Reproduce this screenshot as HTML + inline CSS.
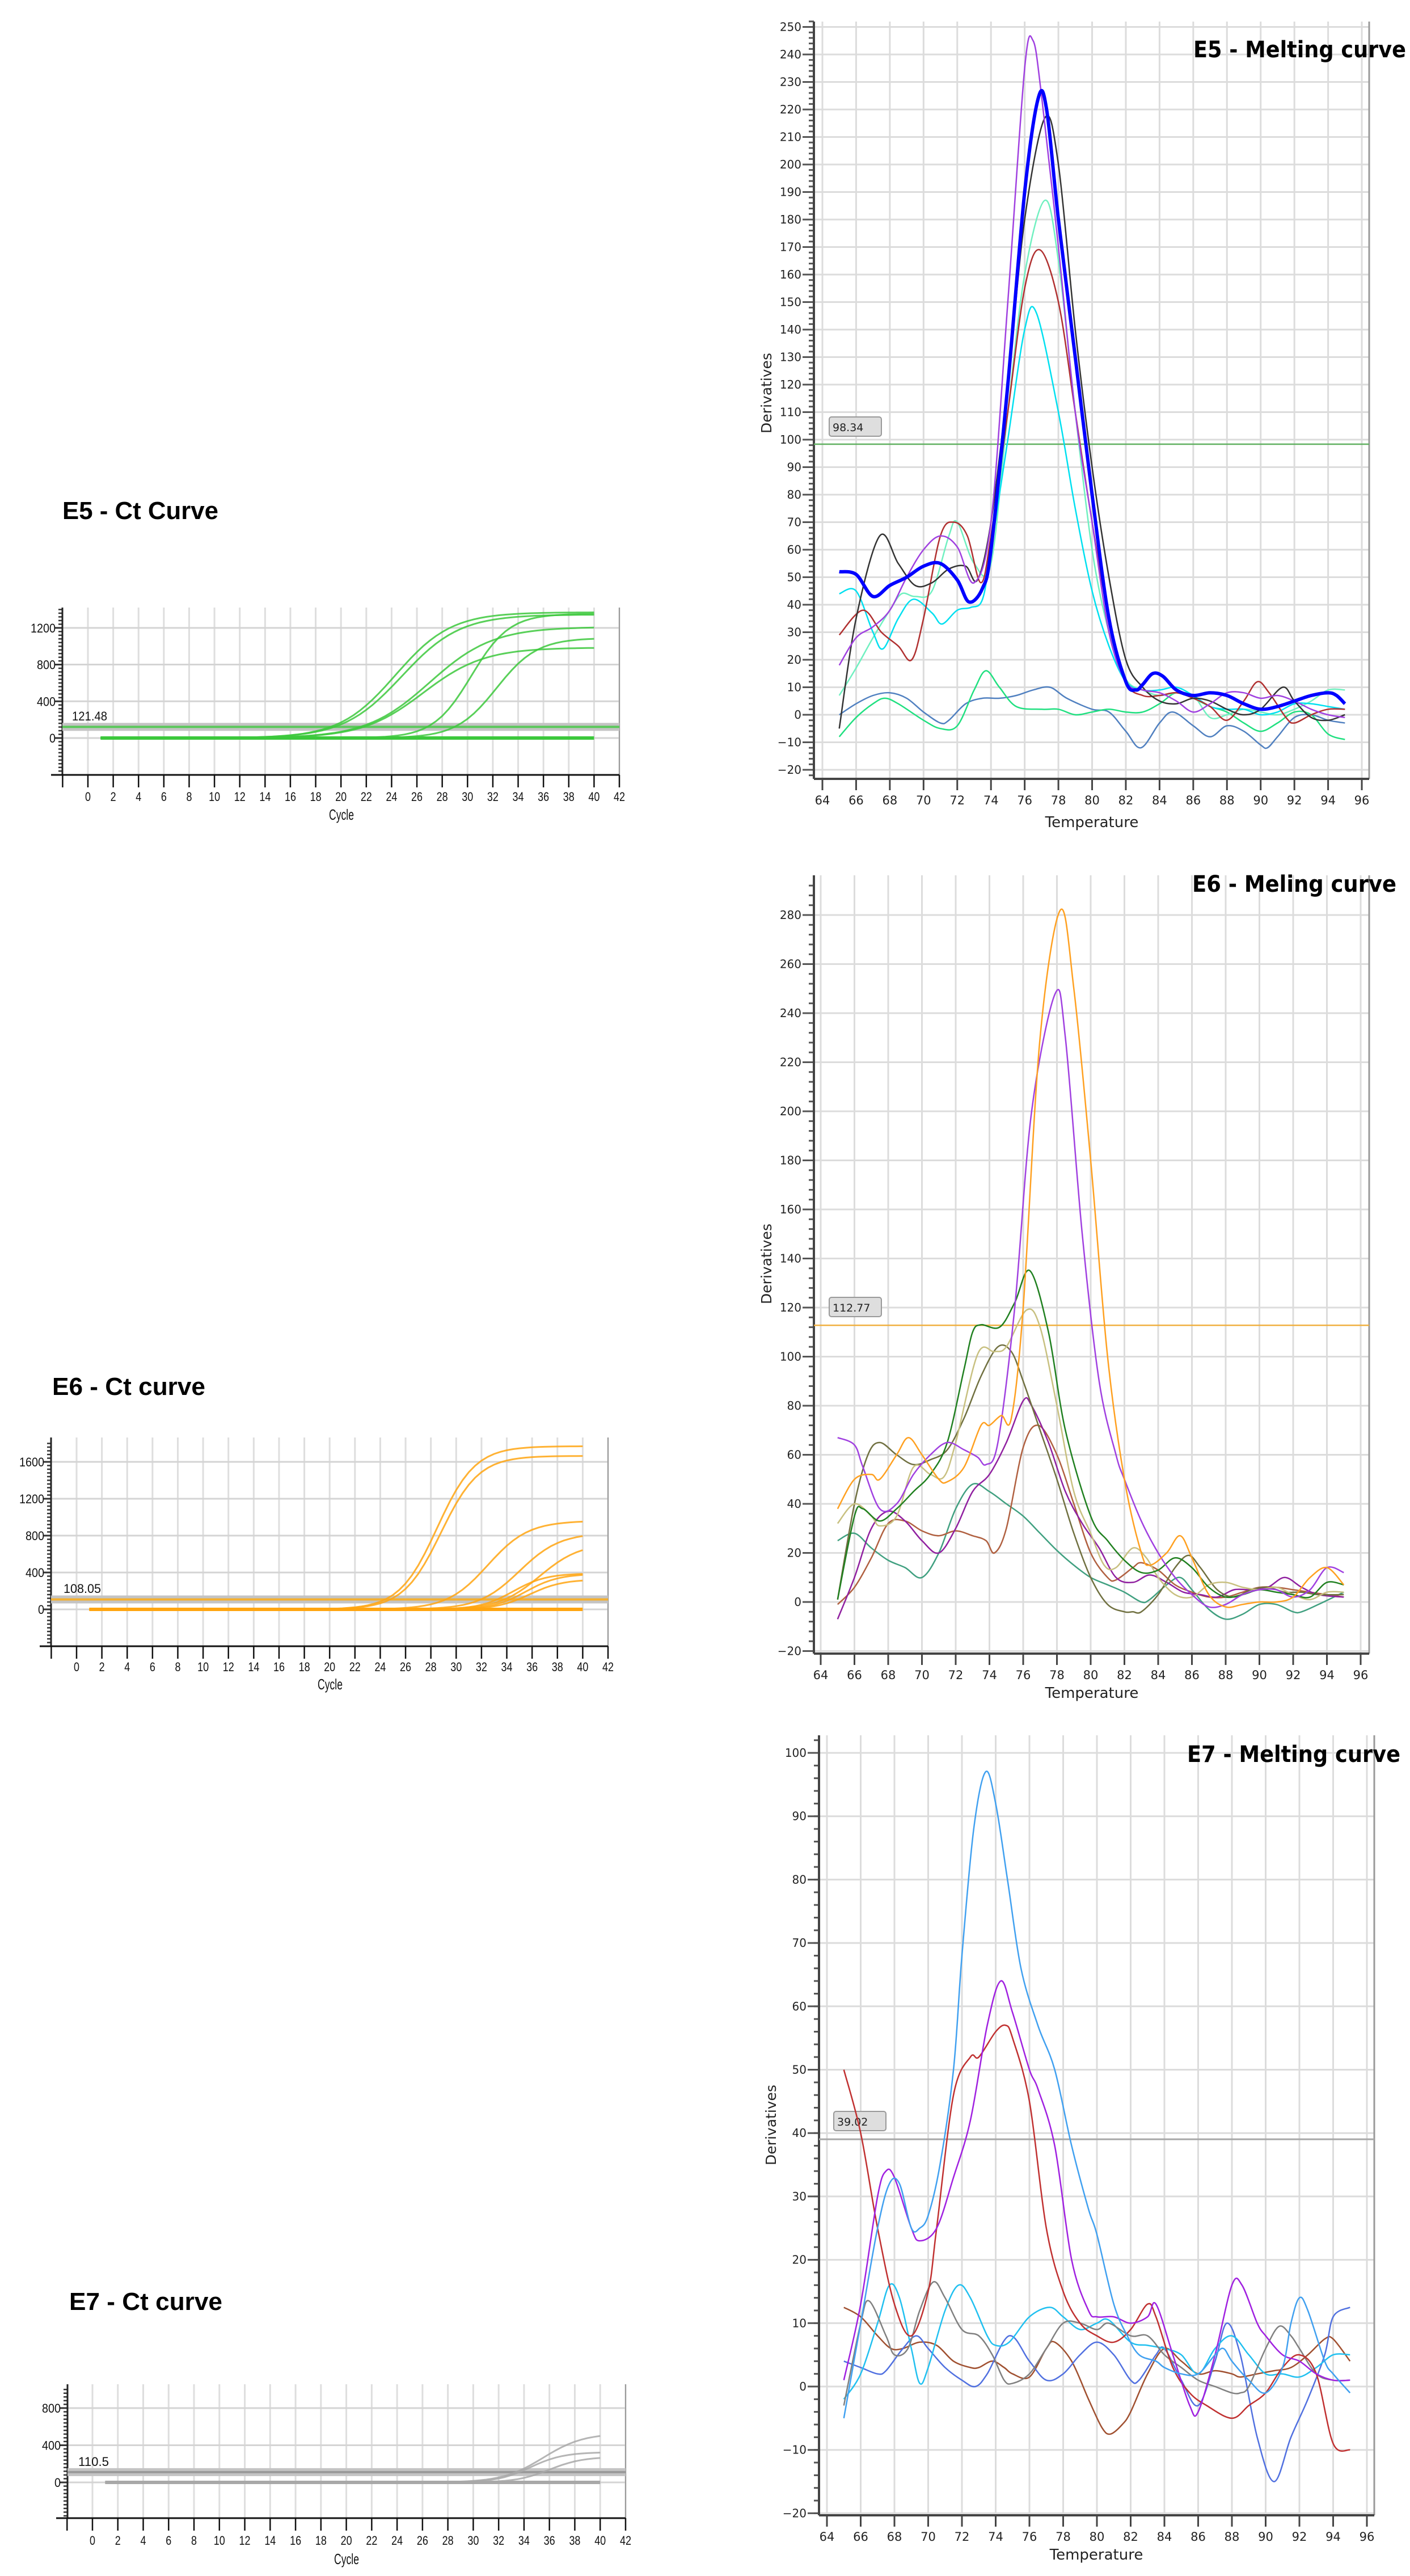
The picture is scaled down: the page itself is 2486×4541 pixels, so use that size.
<!DOCTYPE html>
<html><head><meta charset="utf-8">
<style>
html,body{margin:0;padding:0;background:#fff;}
svg{display:block;}
text{font-family:"DejaVu Sans","Liberation Sans",sans-serif;}
.ct{font-family:"Liberation Sans",sans-serif;}
</style></head>
<body>
<svg id="s" xmlns="http://www.w3.org/2000/svg" width="2486" height="4541" viewBox="0 0 2486 4541">
<rect width="2486" height="4541" fill="#fff"/>
</svg>
<script>
var S=document.getElementById('s');var NS='http://www.w3.org/2000/svg';
function el(t,a,txt){var e=document.createElementNS(NS,t);for(var k in a)e.setAttribute(k,a[k]);if(txt!==undefined)e.textContent=txt;S.appendChild(e);return e;}
function line(x1,y1,x2,y2,c,w){el('line',{x1:x1,y1:y1,x2:x2,y2:y2,stroke:c,'stroke-width':w});}
function cr(pts){var d='M'+pts[0][0].toFixed(1)+' '+pts[0][1].toFixed(1);
for(var i=0;i<pts.length-1;i++){var p0=pts[i-1]||pts[i],p1=pts[i],p2=pts[i+1],p3=pts[i+2]||p2;
var c1=[p1[0]+(p2[0]-p0[0])/6,p1[1]+(p2[1]-p0[1])/6],c2=[p2[0]-(p3[0]-p1[0])/6,p2[1]-(p3[1]-p1[1])/6];
d+=' C'+c1[0].toFixed(1)+' '+c1[1].toFixed(1)+' '+c2[0].toFixed(1)+' '+c2[1].toFixed(1)+' '+p2[0].toFixed(1)+' '+p2[1].toFixed(1);}return d;}

function melt(o){
 var X=function(t){return o.x64+(t-64)*o.ppd;},Y=function(v){return o.y0-v*o.ppu;};
 // grid
 for(var t=64;t<=96;t+=2){line(X(t),o.top,X(t),o.bottom,'#dcdcdc',3);}
 for(var v=o.ymin;v<=o.ymax;v+=o.step){line(o.axis,Y(v),o.right,Y(v),'#dcdcdc',3);}
 line(o.right,o.top,o.right,o.bottom,'#9a9a9a',3);
 // minor ticks
 for(var v=o.ymin-o.minor*2;v<=o.ymax+o.minor*3;v+=o.minor){var y=Y(v);if(y<o.top-5||y>o.bottom)continue;line(o.axis-9,y,o.axis,y,'#555',3);}
 for(var v=o.ymin;v<=o.ymax;v+=o.step){var y=Y(v);line(o.axis-20,y,o.axis,y,'#555',3);
   el('text',{x:o.axis-22,y:y+7,'font-size':20,'text-anchor':'end',fill:'#222'},(v<0?'\u2212'+(-v):v));}
 line(o.axis,o.top,o.axis,o.bottom,'#444',4);
 line(o.axis,o.bottom,o.right,o.bottom,'#444',4);
 for(var t=64;t<=96;t+=2){line(X(t),o.bottom,X(t),o.bottom+20,'#444',3);
   el('text',{x:X(t),y:o.lab,'font-size':21,'text-anchor':'middle',fill:'#222'},t);}
 el('text',{x:o.tx,y:o.tyy,'font-size':26,'text-anchor':'middle',fill:'#222'},'Temperature');
 el('text',{x:0,y:0,'font-size':25,'text-anchor':'middle',fill:'#222',transform:'translate('+o.dx+','+o.dy+') rotate(-90)'},'Derivatives');
 // threshold
 var ty=Y(o.th);line(o.axis,ty,o.right,ty,o.thc,o.thw);
 el('rect',{x:o.bx,y:o.by,width:92,height:34,rx:4,fill:'#dedede',stroke:'#999','stroke-width':2});
 el('text',{x:o.bx+6,y:o.by+25,'font-size':19,fill:'#222'},o.thl);
 // series
 o.series.forEach(function(s){var pts=s.d.map(function(p){return [X(p[0]),Y(p[1])];});
   el('path',{d:cr(pts),fill:'none',stroke:s.c,'stroke-width':s.w||2.5,'stroke-linejoin':'round'});});
 el('text',{x:o.tix,y:o.tiy,'font-size':40,'font-weight':'bold','font-family':'Liberation Sans, sans-serif',textLength:o.tiw,lengthAdjust:'spacingAndGlyphs',fill:'#000'},o.title);
}
function P(a){var r=[];for(var i=0;i<a.length;i+=2)r.push([a[i],a[i+1]]);return r;}

melt({x64:1450,ppd:29.72,y0:1260,ppu:4.85,top:38,bottom:1373,right:2414,axis:1435,ymin:-20,ymax:250,step:10,minor:2,
lab:1418,tx:1925,tyy:1458,dx:1360,dy:693,th:98.34,thc:'#60b060',thw:2.5,bx:1462,by:735,thl:'98.34',
tix:2104,tiy:101,tiw:375,title:'E5 - Melting curve',series:[
{c:'#5080c0',d:P([65,0,66,4,67,7,68,8,69,6,70,1,71,-3,71.5,-2,72.5,4,73.5,6,74.5,6,75.5,7,76.5,9,77.5,10,78.5,6,80,2,81,1,82,-6,82.9,-12,84,-3,84.8,1,86,-4,87,-8,88,-4,89,-6,90,-11,90.4,-12,91,-8,92,-1,93,0,94,-2,95,-3])},
{c:'#20e080',d:P([65,-8,66,-1,67,4,67.7,6,68.5,4,70,-2,71,-5,72,-4,73,9,73.7,16,74.5,10,75.5,3,77,2,78,2,79,0,80,1,81,2,82,1,83,1,84,4,85,8,86,6,87,3,88,1,89,-3,90,-6,91,-3,92,1,93,0,94,-7,95,-9])},
{c:'#70f0c0',d:P([65,7,66,17,67,28,68,38,68.7,44,69.5,43,70.5,45,71.5,65,72,70,73,55,74,55,75,110,76,160,77.2,187,78,165,79,110,80,60,81,30,82,13,83,9,84,7,85,8,86,7,87,-1,88,0,89,2,90,1,91,0,92,2,93,5,94,9,95,9])},
{c:'#00e0f0',d:P([65,44,66,45,67,30,67.6,24,68.5,35,69.4,42,70.5,37,71.1,33,72,38,72.8,39,73.5,42,74,60,75,100,76,140,76.7,146,78,110,79,75,80,45,81,25,82,12,83,9,84,9,85,10,86,7,87,3,88,2,89,2,90,0,91,1,92,4,93,4,94,3,95,2])},
{c:'#b03030',d:P([65,29,66.4,38,67.5,30,68.5,25,69.3,20,70,35,71,65,71.8,70,72.6,65,73.4,48,74,65,75,110,76,155,76.9,169,78,150,79,110,80,70,81,35,82,12,83,7,84,7,85,8,86,6,87,3,88,-2,89,5,89.8,12,90.5,8,91.5,-1,92,-3,93,0,94,2,95,2])},
{c:'#333',d:P([65,-5,66,35,67.4,65,68.5,55,69.5,47,70.5,48,71.5,53,72.5,54,73.2,49,74,70,75,120,76,180,77.2,217,78,200,79,140,80,90,81,50,82,20,83,10,84,5,85,4,86,6,87,5,88,2,89,0,90,2,91.3,10,92,5,93,-1,94,-2,95,0])},
{c:'#a040e0',d:P([65,18,66,28,67,32,68,38,69,50,70,60,71,65,72,61,73,48,74,70,75,150,76,235,76.5,245,77,225,78,170,79,110,80,70,81,30,82,12,83,9,84,8,85,5,86,1,87,4,88,8,89,8,90,6,91,7,92,5,93,2,94,0,95,-1])},
{c:'#0000ff',w:6,d:P([65,52,66,51,67,43,68,47,69,50,70,54,71,55,72,49,72.7,41,73.5,46,74,60,75,120,76,190,76.8,224,77.3,220,78,180,79,130,80,80,81,35,82,12,82.6,9,83,11,83.6,15,84.2,14,85,9,86,7,87,8,88,7,89,4,90,2,91,3,92,5,93,7,94,8,94.5,7,95,4])}
]});

melt({x64:1447,ppd:29.75,y0:2824,ppu:4.325,top:1543,bottom:2915,right:2414,axis:1435,ymin:-20,ymax:280,step:20,minor:4,
lab:2960,tx:1925,tyy:2993,dx:1360,dy:2228,th:112.77,thc:'#f0b040',thw:2.5,bx:1462,by:2287,thl:'112.77',
tix:2102,tiy:1572,tiw:360,title:'E6 - Meling curve',series:[
{c:'#40a080',d:P([65,25,66,28,67,22,68,17,69,14,70,10,71,20,72,38,73,48,74,45,75,40,76,35,77,28,78,21,79,15,80,10,81,7,82,4,83,0,83.5,1,84.5,7,85.3,10,86,5,87,-3,88,-7,89,-5,90,-1,91,-1,92,-4,92.5,-4,93.5,-1,95,4])},
{c:'#b06040',d:P([65,-1,66,6,67,18,68,32,69,33,70,29,71,27,72,29,73,27,73.8,25,74.3,20,75,30,76,63,76.9,72,78,60,79,40,80,20,81,10,81.5,9,82.5,14,83,16,84,13,85,7,86,4,87,2,88,2,89,4,90,6,91,6,92,5,93,4,94,3,95,2])},
{c:'#9020a0',d:P([65,-7,66,10,67,30,68,37,69,33,70,25,71,20,72,30,73,45,74,52,75,65,76,82,76.5,80,77.5,65,78.5,45,79.5,32,80.5,22,81.5,10,82.5,8,83.5,11,84.5,8,85.5,4,86.5,3,87.5,2,88.5,5,89.5,5,90.5,6,91.5,10,92.5,6,93.5,3,95,2])},
{c:'#707040',d:P([65,1,66,40,66.8,60,67.5,65,68.5,60,69.5,56,70.5,58,71.5,62,72.5,75,73.5,92,74.5,104,75.3,102,76,90,77,70,78,50,79,28,80,10,81,-1,82,-4,82.5,-4,83,-4,84,3,85,14,85.8,19,86.5,14,87.5,5,88.5,2,89.5,5,90.5,6,91.5,4,92.5,4,93.5,3,95,3])},
{c:'#c8c080',d:P([65,32,66,40,67,35,67.5,31,68.5,35,69.5,55,70.5,52,71.3,51,72,65,73.3,101,74.3,102,75,104,76.2,119,77,112,78,80,79,45,80,28,80.8,15,81.5,14,82.5,22,83.3,18,84,10,85,3,86,2,87,7,88,8,89,6,90,5,91,6,92,3,93,1,94,4,95,4])},
{c:'#208020',d:P([65,1,66,35,66.5,38,67.5,33,68.5,38,69.5,45,70.5,52,71.5,65,72.5,95,73,110,73.5,113,74.6,112,75.5,122,76.4,135,77.5,110,78.5,70,80,35,81,25,82,17,83,12,84,13,85,18,86,14,87,6,88,2,89,3,90,5,91,4,92,3,93,2,94,8,95,7])},
{c:'#a040e0',d:P([65,67,66,64,66.5,55,67.5,38,68.5,40,69.5,52,70.5,60,71.5,65,72.5,62,73.3,59,73.8,56,74.5,65,75.5,120,76.5,200,77.9,248,78.5,230,79.5,150,80.5,90,81.5,60,82,50,83,33,84,20,85,10,86,3,87,-2,88,-1,89,3,90,5,91,5,92,2,93,5,94,14,95,12])},
{c:'#ffa020',d:P([65,38,66,50,67,52,67.5,50,68.5,60,69.2,67,70,60,71,50,71.5,49,72.5,55,73.5,72,74,72,74.7,76,75.3,75,76,120,77,230,78.2,282,79,250,80,180,81,100,82,50,83,20,83.5,15,84.5,20,85.3,27,86,18,87,3,88,-2,89,-1,90,0,91,0,92,2,93,10,94,14,95,7])}
]});

melt({x64:1458,ppd:29.75,y0:4207,ppu:11.17,top:3059,bottom:4434,right:2423,axis:1444,ymin:-20,ymax:100,step:10,minor:2,
lab:4479,tx:1933,tyy:4512,dx:1368,dy:3746,th:39.02,thc:'#a8a8a8',thw:3,bx:1470,by:3722,thl:'39.02',
tix:2093,tiy:3106,tiw:376,title:'E7 - Melting curve',series:[
{c:'#a05030',d:P([65,12.5,66,11,67,8,67.8,6,68.5,6,69.5,7,70.5,6.5,71.5,4,72.5,3,73,3,73.8,4,74.5,3,75,2,76,1.5,77,6,77.5,7,78.5,4,79.5,-2,80.3,-6.5,80.8,-7.5,81.5,-6,82,-4,83,2,84,6,85,4,86,2,87,2.5,88,2,88.5,1.5,89.5,2,90.5,2.5,91.5,3,92.5,5,93.5,7.5,94,7.5,95,4])},
{c:'#5070e0',d:P([65,4,66,3,67,2,67.5,2.5,68.5,6,69.3,8,70,6,71,3,72,1,72.8,0,73.5,2,74.8,8,76,4,77,1,78,2,79,5,80,7,81,5,82,1,82.5,1,83.5,5,84,6,85,1,86,-3,87,4,87.7,10,88.5,5,89.5,-8,90.5,-15,91.5,-8,92.5,-2,93.5,5,94,11,95,12.5])},
{c:'#20c0f0',d:P([65,-2,66,2,67,10,67.7,16,68.3,14,69,6,69.5,0.5,70,3,71,12,71.8,16,72.5,14,73.5,8,74,6.5,74.8,7,76,11,77.2,12.5,78,11,79,9,80,10,80.7,10.5,82,7,83,6.5,84,6,85,5,86,2,87,6,88,8,89,5,90,2,91,2,92,1.5,93,3,94,5,95,5])},
{c:'#808080',d:P([65,-3,66,10,66.5,13.5,67.5,8,68,5,68.8,6,69.5,12,70.3,16.5,71,14,72,9,73,8,73.8,5,74.5,1,75,0.5,76,2,77,6,78,10,79,10,80,9,80.7,10,82,8,83,8,84,5,85,3,86,1,87,0,88,-1,88.5,-1,89,0,90,6,90.8,9.5,91.5,8,92,6,93,2,94,1,95,1])},
{c:'#c03030',d:P([65,50,66,40,67,25,68,13,69,8,70,15,70.5,25,71.5,46,72.5,52,73,52,74,56,74.6,57,75,55,76,45,77,25,78,15,79,10,80,8,81,7,82,9,83,13,83.5,11,84.5,3,85.5,-1,86.5,-3,88,-5,89,-3,90,-1,91,3,92,5,93,2,94,-9,95,-10])},
{c:'#a020e0',d:P([65,1,66,13,67,30,67.5,34,68,33,69,25,69.5,23,70.5,25,71.5,33,72.5,42,73.5,57,74.3,64,75,59,76,50,76.5,47,77.5,38,78.5,20,79.5,12,80,11,81,11,82,10,83,11,83.5,13,84.5,5,85.5,-3,86,-4,87,5,88,16,88.6,16,89.5,10,90,8,91,5,92,4,93,2,94,1,95,1])},
{c:'#40a0f0',d:P([65,-5,66,10,67,25,67.7,32,68.3,32,69,25,69.5,25,70,27,70.7,35,71.5,50,72,68,72.7,88,73.4,97,74,92,74.7,80,75.5,66,76.5,57,77.5,50,78.5,38,79.5,28,80,24,81,13,81.8,8,82.5,5,83.5,4,84,3,85,2,86,2,87,5,87.5,6,88,4,89,1,90,-1,91,3,91.5,10,92,14,92.5,12,93.5,4,94,2,95,-1])}
]});

function ct(o){
 var X=function(c){return o.x0+c*o.ppc;},Y=function(v){return o.y0-v*o.ppu;};
 for(var c=0;c<=42;c+=2)line(X(c),o.top,X(c),o.xa,'#dedede',3);
 for(var v=0;v<=o.ymax;v+=400)line(o.axis,Y(v),X(42),Y(v),'#d4d4d4',3);
 line(X(42),o.top,X(42),o.xa,'#999',2);
 for(var v=-400;v<=o.ymax+200;v+=40){var y=Y(v);if(y<o.top||y>o.xa)continue;line(o.axis-7,y,o.axis,y,'#333',2.5);}
 for(var v=0;v<=o.ymax;v+=400){var y=Y(v);line(o.axis-14,y,o.axis,y,'#333',3);
  el('text',{x:o.axis-12,y:y+8,'font-size':22,'text-anchor':'end',fill:'#111','class':'ct',textLength:(String(v).length*11),lengthAdjust:'spacingAndGlyphs'},v);}
 line(o.axis,o.top,o.axis,o.xa,'#222',3);
 line(o.axis-20,o.xa,X(42),o.xa,'#111',3);
 for(var c=-2;c<=42;c+=2){line(X(c),o.xa,X(c),o.xa+22,'#111',2.5);
  if(c>=0)el('text',{x:X(c),y:o.lab,'font-size':22,'text-anchor':'middle',fill:'#111','class':'ct',textLength:(String(c).length*10),lengthAdjust:'spacingAndGlyphs'},c);}
 el('text',{x:o.cx,y:o.cy,'font-size':26,'text-anchor':'middle',fill:'#111','class':'ct',textLength:44,lengthAdjust:'spacingAndGlyphs'},'Cycle');
 var ty=Y(o.th);line(o.axis,ty,X(42),ty,'#c4c4c4',14);line(o.axis,ty,X(42),ty,o.thc,4);
 el('text',{x:o.lx,y:o.ly,'font-size':22,fill:'#111','class':'ct',textLength:o.lw,lengthAdjust:'spacingAndGlyphs'},o.thl);
 line(X(1),Y(0),X(40),Y(0),o.col,6);
 o.cv.forEach(function(p){var pts=[];for(var c=1;c<=40;c+=0.5){var v=p[0]/(1+Math.exp(-(c-p[1])/p[2]));pts.push(X(c).toFixed(1)+','+Y(v).toFixed(1));}
  el('polyline',{points:pts.join(' '),fill:'none',stroke:o.col,'stroke-width':3,'stroke-opacity':0.85});});
 el('text',{x:o.tix,y:o.tiy,'font-size':44,'font-weight':'bold','class':'ct',textLength:o.tiw,lengthAdjust:'spacingAndGlyphs',fill:'#000'},o.title);
}
ct({x0:155,ppc:22.31,y0:1301,ppu:0.1618,top:1071,xa:1366,axis:110,ymax:1200,lab:1412,cx:602,cy:1445,th:121.48,thc:'#5ac85a',
lx:127,ly:1270,lw:62,thl:'121.48',col:'#3cc83c',tix:110,tiy:915,tiw:275,title:'E5 - Ct Curve',
cv:[[1370,24.3,2.2],[1345,24.8,2.3],[1210,27,2.5],[985,26.5,2.4],[1355,30.3,1.5],[1090,32.3,1.6]]});
ct({x0:135,ppc:22.31,y0:2837,ppu:0.1625,top:2534,xa:2902,axis:90,ymax:1600,lab:2946,cx:582,cy:2978,th:108.05,thc:'#f5b030',
lx:112,ly:2808,lw:66,thl:'108.05',col:'#ffa510',tix:92,tiy:2459,tiw:270,title:'E6 - Ct curve',
cv:[[1770,28.5,1.5],[1665,28.8,1.5],[960,32.5,1.6],[830,35,1.6],[720,36.6,1.6],[390,34.5,1.3],[385,35.5,1.3],[325,35.8,1.3]]});
ct({x0:163,ppc:22.38,y0:4376,ppu:0.1638,top:4203,xa:4439,axis:119,ymax:800,lab:4486,cx:611,cy:4520,th:110.5,thc:'#9a9a9a',
lx:138,ly:4347,lw:54,thl:'110.5',col:'#a8a8a8',tix:122,tiy:4072,tiw:270,title:'E7 - Ct curve',
cv:[[530,35.5,1.6],[325,34.5,1.3],[275,36,1.3]]});
</script>
</body></html>
